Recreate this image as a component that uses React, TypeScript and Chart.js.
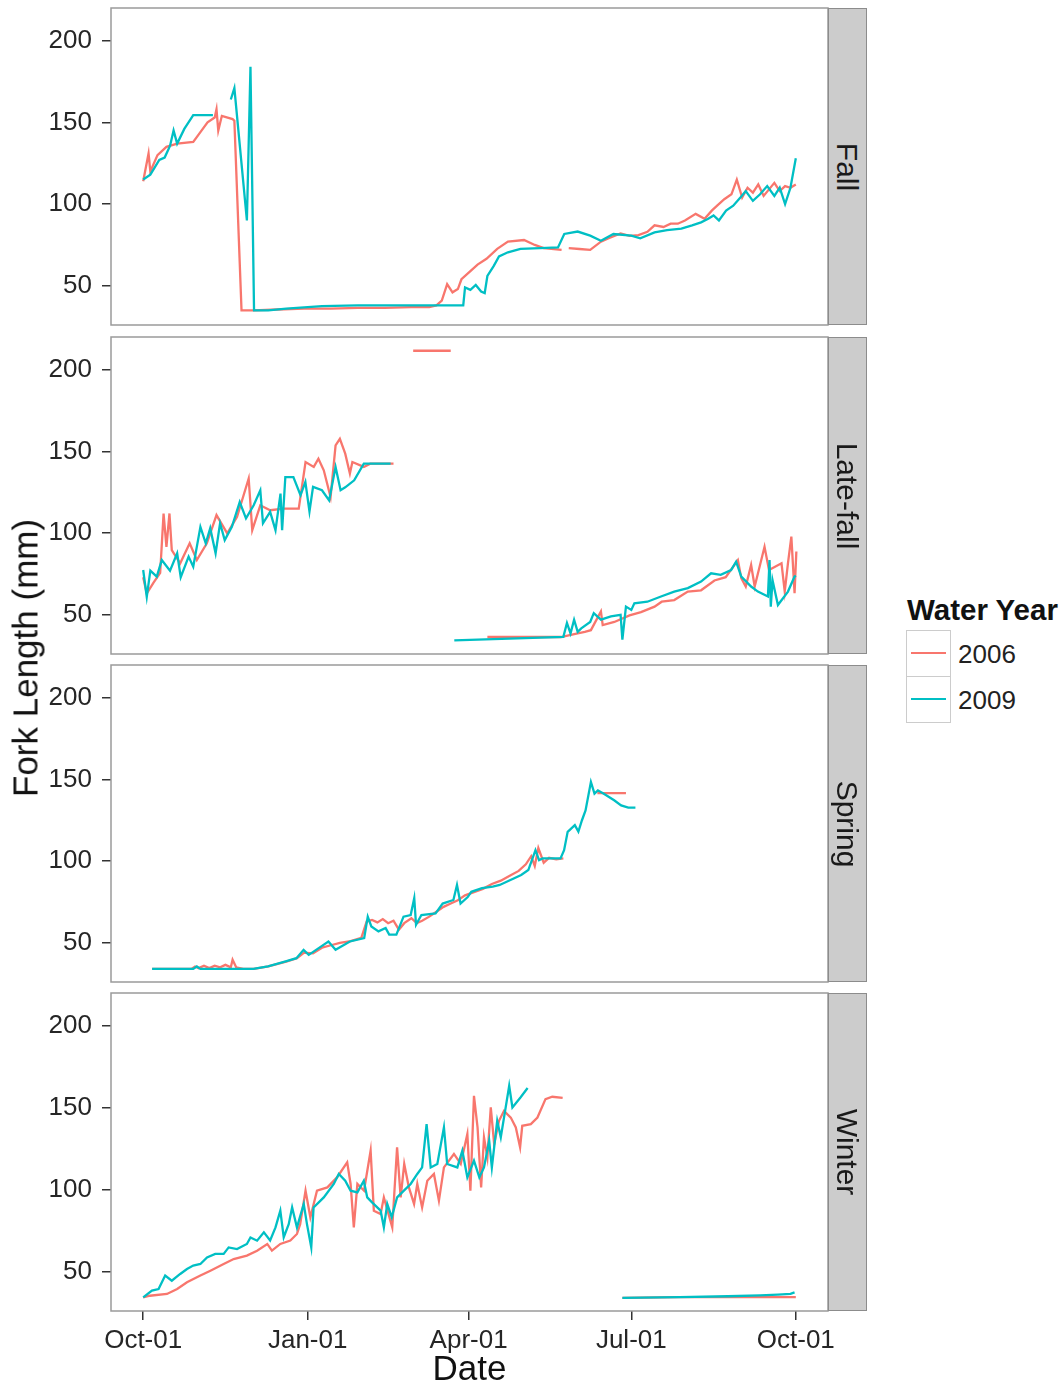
import React, { useEffect, useRef } from "react";
import { Chart, registerables } from "chart.js";

Chart.register(...registerables);
Chart.defaults.font.family = "'Liberation Sans', Arial, Helvetica, sans-serif";

// ---------- tick labels / categories ----------
const X_TICK_DAYS = [0, 92, 182, 273, 365]; // days since Oct-01
const X_TICK_LABELS = ["Oct-01", "Jan-01", "Apr-01", "Jul-01", "Oct-01"];
const Y_TICKS = [50, 100, 150, 200];
const RUNS = ["Fall", "Late-fall", "Spring", "Winter"];
const YEARS = ["2006", "2009"];
const COLORS = ["#F8766D", "#00BFC4"];

// ---------- data: day since Oct-01, fork length (mm); null = gap ----------
const FALL_2006_DAY = [0, 3, 4, 8, 13, 19, 28, 32, 36, 40, 41, 42, 44, 50, 51, 55, 62, 75, 90, 105, 120, 135, 150, 160, 164, 167, 170, 173, 176, 178, 183, 187, 192, 198, 204, 213, 219, 224, 234, 236, 238, 244, 250, 256, 260, 267, 272, 277, 282, 286, 291, 295, 299, 303, 309, 314, 318, 321, 325, 329, 332, 335, 338, 341, 344, 347, 350, 353, 356, 359, 362, 365];
const FALL_2006_FL = [114, 131, 120, 130, 135, 137, 138, 144, 150, 153, 158, 145, 154, 152, 151, 35, 35, 35.5, 36, 36, 36.5, 36.5, 37, 37, 38, 41, 51, 46, 48, 54, 59, 63, 66.5, 72.6, 77, 78, 75, 73, 72, null, 73, 72.5, 72, 77, 79, 82, 80.5, 81, 83, 87, 86, 88, 88, 90, 94, 91, 96, 99, 103, 106, 115, 104, 110, 107, 112, 105, 109, 113, 108, 111, 110, 112];

const FALL_2009_DAY = [0, 4, 9, 12, 15, 17, 19, 23, 28, 39, 40, 49, 51, 58, 60, 62, 70, 80, 92, 100, 120, 140, 160, 170, 179, 180, 183, 186, 189, 191, 192.5, 196, 199, 204, 211, 222, 232, 235.5, 243, 250, 256, 263, 273, 278, 286, 293, 301, 307, 312, 316, 319, 322, 326, 330, 334, 337, 341, 345, 349, 353, 356, 359, 362, 365];
const FALL_2009_FL = [115, 118, 127, 128.5, 135.6, 145, 137, 146, 154.5, 154.5, null, 164, 171, 90, 184, 35, 35, 36, 37, 37.5, 38, 38, 38, 38, 38, 49, 47.5, 50.5, 46.5, 45.5, 56, 62, 68, 70.5, 72.6, 73, 73.5, 81.7, 83.2, 80.7, 77.6, 81.7, 80.7, 79, 82.7, 84, 85, 87, 88.8, 91, 93, 90, 96, 99, 104, 108, 102, 106, 111, 105, 110, 100, 110, 128];

const LATE_2006_DAY = [0, 2, 5.7, 9.5, 11.4, 13, 14.7, 16, 20.7, 26, 30, 35.6, 41, 47, 52.5, 59, 61, 65.5, 71, 78.6, 87, 90.8, 95.4, 98, 101, 104.8, 107.6, 110, 113, 115.6, 117, 123.4, 127, 140, 145, 151, 172, 180, 192.5, 233.6, 243, 247, 250.4, 256, 257, 263.5, 272, 278.4, 286, 290, 297, 304.6, 312, 319.5, 325.8, 332.6, 334.5, 337, 340, 342, 347.5, 350, 357, 358.8, 360.6, 362.5, 364.3, 365.3];
const LATE_2006_FL = [73, 63, 69.5, 75.6, 112, 91.6, 112, 89.6, 81.5, 93.7, 83.5, 93.7, 111, 99.8, 110, 133.4, 101.8, 117, 114, 115, 115, 143.5, 140.5, 145.5, 138.4, 122, 153.7, 157.7, 148.6, 136.4, 143.5, 140.5, 142.5, 142.5, null, 211.6, 211.6, null, 36.4, 36.4, 38.6, 39.6, 40.6, 52, 43.7, 45.6, 49.6, 51.6, 55, 58, 59, 64.2, 65, 71, 73, 83.5, 72.4, 67.3, 80.5, 67.3, 91.6, 77.4, 81.5, 64.2, 81.5, 97.8, 63.2, 88.7];

const LATE_2009_DAY = [0, 2, 4, 7.6, 10.4, 15, 19, 21, 25.4, 28, 32, 35, 37.5, 40.5, 43, 45.6, 49.6, 54, 57.5, 61.8, 65.5, 67, 71, 74, 76.8, 77.7, 79.5, 84, 88, 90.7, 93, 95, 100, 104, 107.6, 110.4, 113, 118, 123.4, 138.4, 150, 174, 235, 237, 239, 241, 243, 245, 250, 252, 256, 261.6, 267, 268, 270, 273, 274.7, 282, 289.6, 297, 304.6, 312, 317.6, 323, 328.8, 331.6, 334.5, 340, 343.8, 349.4, 350.3, 351, 352, 355, 360.6, 364.3, 365];
const LATE_2009_FL = [77.4, 61, 77, 73.4, 83.5, 77, 87.6, 73, 85.6, 79.4, 103.8, 93.7, 103, 87.6, 106, 95.7, 103.8, 119, 109, 117, 126.2, 106, 113, 101.8, 124.2, 101.8, 134.3, 134.3, 123.2, 131.3, 113.2, 128.3, 126.2, 120, 140.5, 126.2, 128, 132.3, 142.5, 142.5, null, 34.3, 36.5, 45, 38.6, 47, 39.6, 41.7, 45.6, 51, 47, 49, 50, 34.8, 55, 53, 57, 58, 61.2, 64.2, 66.3, 70.3, 75.4, 74.4, 77.4, 82.5, 73.4, 67.3, 64.2, 61.2, 83.5, 55, 71, 56, 64.2, 73.4, 74];

const SPRING_2006_DAY = [5, 27, 29, 31, 34, 37, 40, 43, 46, 49, 50, 52, 56, 62, 70, 80, 86, 90, 95, 100, 105, 110, 116, 122, 125, 128, 131, 134, 137, 140, 143, 146, 150, 153, 156, 160, 164, 168, 172, 176, 180, 185, 190, 195, 200, 205, 210, 214, 217, 219, 221, 224, 227, 231, 235, 245, 254, 270];
const SPRING_2006_FL = [34, 34, 35.5, 34.5, 36, 34.5, 36, 35, 36.5, 35, 39.6, 35, 34, 34, 35.5, 38.5, 40.5, 44, 43.5, 47, 48.5, 50, 51, 53, 63, 64, 62.5, 64.5, 62, 63.5, 58, 62, 65, 62, 63.5, 66, 69, 72, 74, 76, 79, 81, 83, 86, 88, 91, 94, 98, 103, 97, 108, 99, 102, 101, 101.6, null, 141.6, 141.6];

const SPRING_2009_DAY = [5, 28, 30, 32, 61.6, 69.8, 79.7, 85.7, 89.7, 92.6, 99.6, 103.6, 107.6, 115.6, 123.6, 125.6, 127.6, 131.6, 135.6, 137.6, 141.6, 145.6, 149.6, 151.6, 152.6, 155.6, 163.5, 167.5, 173.5, 175.5, 177.5, 181.5, 183.5, 189.5, 195.5, 199.4, 205.4, 211.4, 215.4, 219.4, 221.4, 223.4, 229.4, 233.4, 235.4, 237.4, 241.4, 243.4, 245.4, 247.4, 250.4, 252.4, 254.3, 257.4, 263.4, 267.3, 271.3, 275.3];
const SPRING_2009_FL = [34, 34, 35.5, 34, 34, 35.5, 38.6, 40.6, 45.7, 42.6, 47.8, 50.8, 45.7, 50.8, 52.9, 66, 60, 57, 59, 55, 55, 66, 67, 77.3, 61, 67, 68, 74, 76.2, 85.4, 74, 78, 81.2, 83.4, 84.4, 85.4, 88.4, 91.5, 94.5, 106.7, 100.6, 101.6, 101.6, 101.6, 106.7, 117.9, 122, 118, 125, 131, 148.4, 141.3, 143.3, 141.3, 137.2, 134.1, 132.7, 132.7];

const WINTER_2006_DAY = [0, 3.7, 13.3, 19, 24.5, 32, 37.6, 45, 50.6, 58, 63.7, 69.4, 72, 76.7, 82.3, 86, 87.8, 90.8, 93.5, 97.2, 103, 108.4, 114.1, 116, 117.8, 119.8, 123.5, 127.2, 129, 132.8, 134.6, 139.3, 142, 144, 146, 148.6, 151.5, 153.3, 156, 158.9, 162.6, 165.4, 168.2, 173.8, 177.6, 181.3, 183, 185, 187, 189, 190.6, 192.5, 194.4, 196.3, 199, 201.8, 205.6, 208.4, 210.8, 212, 216.8, 220.5, 225, 228.8, 234.6, 250, 268, 300, 330, 365];
const WINTER_2006_FL = [34.3, 35.3, 36.4, 39.4, 43.5, 47.6, 50.6, 54.7, 57.7, 59.8, 62.8, 66.9, 62.8, 66.9, 69, 73, 79, 99.4, 83, 99.4, 101.4, 107.5, 116.7, 103.5, 77, 103.5, 99.4, 123.8, 87.2, 85.2, 95.3, 77, 125.8, 95.3, 115.7, 101.4, 91.3, 103.5, 89.2, 105.5, 109.6, 93.3, 113.6, 121.8, 115.7, 134, 99.4, 157.3, 138, 101.4, 132, 119.7, 150.2, 127.9, 142, 148.1, 144, 138, 125.8, 139, 140, 144, 155.3, 156.7, 156, null, 34, 34.5, 34.5, 34.5];

const WINTER_2009_DAY = [0, 4.9, 8.6, 12.3, 16, 20.7, 24.5, 28, 32, 35.7, 40.3, 45, 47.8, 52.5, 58, 60, 63.7, 67.5, 71, 74, 76.7, 78.6, 81.4, 83.3, 86, 89.8, 91.6, 94, 95.3, 101, 106.6, 109.4, 113, 116, 119.8, 123.4, 125.3, 128, 132.8, 134.6, 136.5, 139, 142, 145.8, 149.6, 153.3, 156, 158.5, 160.8, 164.5, 168.2, 170, 175.7, 178.5, 181.3, 185, 188, 190.6, 193.5, 195, 198, 200, 201.8, 204.7, 206.5, 211, 215, 240, 268, 300, 327, 345, 355, 362, 364.3];
const WINTER_2009_FL = [34.3, 38.4, 39.4, 47.6, 44.5, 48.6, 51.6, 53.7, 54.7, 58.7, 60.8, 60.8, 64.8, 63.8, 66.9, 70.9, 68.9, 74, 69, 77, 87.2, 71, 79, 89.2, 77, 91.3, 79, 64.8, 89.2, 95.3, 103.5, 109.6, 105.5, 99.4, 98.4, 105.5, 95.3, 92.3, 87.2, 77, 91.3, 83.2, 95.3, 99.4, 103.5, 109.6, 113.6, 140, 113.6, 115.7, 138, 115.7, 113.6, 123.8, 107.5, 117.7, 107.5, 113.6, 129.9, 113.6, 142, 132, 144, 163.4, 150.2, 156.3, 162, null, 34, 34.5, 35, 35.5, 36, 36.5, 37.4];

const PANEL_SERIES = [
  [[FALL_2006_DAY, FALL_2006_FL], [FALL_2009_DAY, FALL_2009_FL]],
  [[LATE_2006_DAY, LATE_2006_FL], [LATE_2009_DAY, LATE_2009_FL]],
  [[SPRING_2006_DAY, SPRING_2006_FL], [SPRING_2009_DAY, SPRING_2009_FL]],
  [[WINTER_2006_DAY, WINTER_2006_FL], [WINTER_2009_DAY, WINTER_2009_FL]],
];

// ---------- layout ----------
const PANEL_TOPS = [8, 337, 665, 993];
const PANEL_HEIGHTS = [317, 317, 317, 318];
const PLOT_LEFT = 111;
const PLOT_RIGHT = 828;
const CANVAS_W = 900;
const PAD = 34;
const PAGE_H = 1388;
const FONT = "'Liberation Sans', Arial, Helvetica, sans-serif";

const panelBorder = {
  id: "panelBorder",
  afterDraw(chart: any) {
    const { ctx, chartArea: a } = chart;
    ctx.save();
    ctx.strokeStyle = "#9a9a9a";
    ctx.lineWidth = 1.5;
    ctx.strokeRect(a.left, a.top, a.right - a.left, a.bottom - a.top);
    ctx.restore();
  },
};

function Panel({ idx }: { idx: number }) {
  const ref = useRef<HTMLCanvasElement | null>(null);
  const isLast = idx === 3;
  const top = PANEL_TOPS[idx] - PAD;
  const h = PANEL_HEIGHTS[idx];
  const canvasH = isLast ? PAGE_H - top : h + 2 * PAD;

  useEffect(() => {
    if (!ref.current) return;
    const series = PANEL_SERIES[idx];
    const datasets = series.map(([days, fl], s) => ({
      label: YEARS[s],
      data: (days as number[]).map((d, i) => ({ x: d, y: (fl as (number | null)[])[i] })),
      borderColor: COLORS[s],
      backgroundColor: COLORS[s],
      borderWidth: 2.3,
      pointRadius: 0,
      tension: 0,
      spanGaps: false,
      order: s === 0 ? 2 : 1,
    }));
    const chart = new Chart(ref.current, {
      type: "line",
      data: { datasets },
      options: {
        responsive: false,
        maintainAspectRatio: false,
        animation: false,
        layout: { padding: { left: 0, right: CANVAS_W - PLOT_RIGHT, top: PAD, bottom: isLast ? 0 : PAD } },
        plugins: { legend: { display: false }, tooltip: { enabled: false } },
        scales: {
          x: {
            type: "linear",
            min: -18,
            max: 383,
            display: isLast,
            afterBuildTicks: (s: any) => {
              s.ticks = X_TICK_DAYS.map((v) => ({ value: v }));
            },
            afterFit: (s: any) => {
              if (isLast) s.height = PAGE_H - (PANEL_TOPS[3] + PANEL_HEIGHTS[3]);
            },
            ticks: {
              autoSkip: false,
              maxRotation: 0,
              padding: 5,
              color: "#262626",
              font: { size: 26, family: FONT },
              callback: (v: any) => {
                const i = X_TICK_DAYS.indexOf(Number(v));
                return i >= 0 ? X_TICK_LABELS[i] : "";
              },
            },
            grid: { display: true, drawOnChartArea: false, drawTicks: true, tickLength: 9, color: "#333", lineWidth: 1.5 },
            border: { display: false },
            title: { display: true, text: "Date", color: "#111", font: { size: 35, family: FONT, lineHeight: 1 }, padding: 0 },
          },
          y: {
            type: "linear",
            min: 26,
            max: 220,
            afterBuildTicks: (s: any) => {
              s.ticks = Y_TICKS.map((v) => ({ value: v }));
            },
            afterFit: (s: any) => {
              s.width = PLOT_LEFT;
            },
            ticks: { padding: 10, color: "#262626", font: { size: 26, family: FONT } },
            grid: { display: true, drawOnChartArea: false, drawTicks: true, tickLength: 9, color: "#333", lineWidth: 1.5 },
            border: { display: false },
          },
        },
      } as any,
      plugins: [panelBorder],
    });
    return () => chart.destroy();
  }, [idx]);

  return (
    <canvas
      ref={ref}
      width={CANVAS_W}
      height={canvasH}
      style={{ position: "absolute", left: 0, top, width: CANVAS_W, height: canvasH, display: "block" }}
    />
  );
}

export default function App() {
  return (
    <div
      style={{
        position: "absolute",
        left: 0,
        top: 0,
        width: 1062,
        height: PAGE_H,
        background: "#fff",
        overflow: "hidden",
        fontFamily: FONT,
      }}
    >
      {RUNS.map((_, i) => (
        <Panel key={"p" + i} idx={i} />
      ))}
      {RUNS.map((run, i) => (
        <div
          key={"s" + i}
          style={{
            position: "absolute",
            left: PLOT_RIGHT,
            top: PANEL_TOPS[i],
            width: 39,
            height: PANEL_HEIGHTS[i],
            background: "#cccccc",
            border: "1px solid #8c8c8c",
            boxSizing: "border-box",
            display: "flex",
            alignItems: "center",
            justifyContent: "center",
          }}
        >
          <span style={{ transform: "rotate(90deg)", whiteSpace: "nowrap", fontSize: 30, lineHeight: 1, color: "#1a1a1a" }}>{run}</span>
        </div>
      ))}
      <div
        style={{
          position: "absolute",
          left: 25,
          top: 658,
          transform: "translate(-50%, -50%) rotate(-90deg)",
          whiteSpace: "nowrap",
          fontSize: 35,
          lineHeight: 1,
          color: "#111",
        }}
      >
        Fork Length (mm)
      </div>
      <div
        style={{
          position: "absolute",
          left: 907,
          top: 610,
          transform: "translateY(-50%)",
          whiteSpace: "nowrap",
          fontSize: 29.5,
          fontWeight: "bold",
          lineHeight: 1,
          color: "#111",
        }}
      >
        Water Year
      </div>
      {YEARS.map((y, i) => (
        <React.Fragment key={"l" + i}>
          <div
            style={{
              position: "absolute",
              left: 906,
              top: 630 + i * 46,
              width: 45,
              height: 47,
              border: "1px solid #cccccc",
              boxSizing: "border-box",
              background: "#fff",
            }}
          >
            <div style={{ position: "absolute", left: 4, width: 35, top: 21, height: 2, background: COLORS[i] }} />
          </div>
          <div
            style={{
              position: "absolute",
              left: 958,
              top: 654 + i * 46,
              transform: "translateY(-50%)",
              fontSize: 26,
              lineHeight: 1,
              color: "#222",
              whiteSpace: "nowrap",
            }}
          >
            {y}
          </div>
        </React.Fragment>
      ))}
    </div>
  );
}
